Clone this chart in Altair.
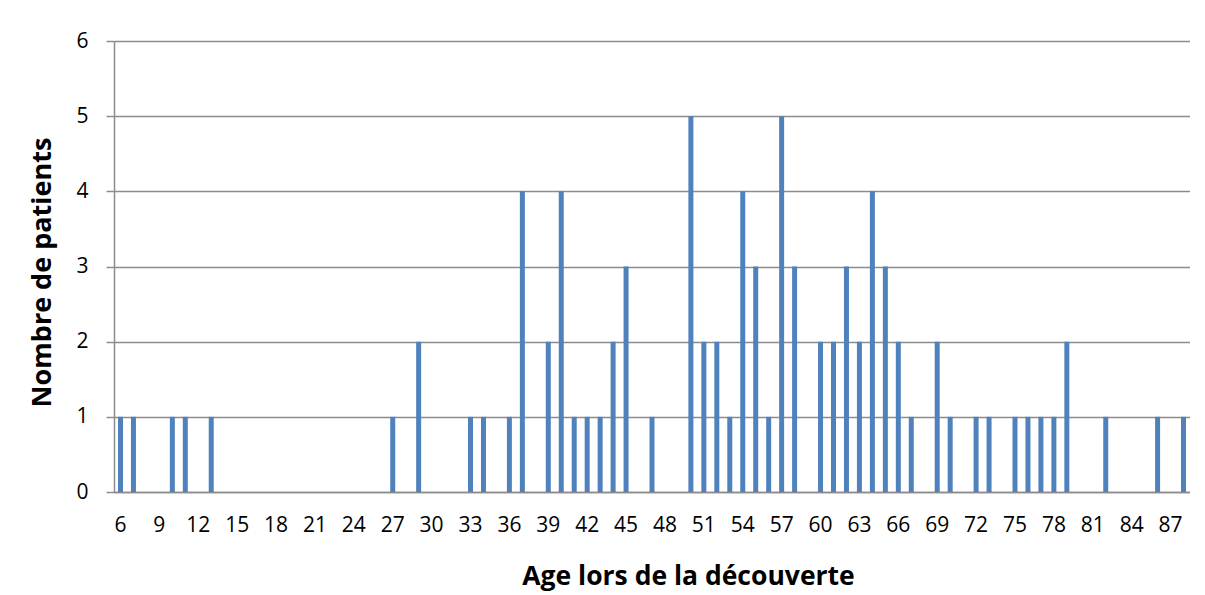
import altair as alt
import pandas as pd

ages = [6, 7, 10, 11, 13, 27, 29, 33, 34, 36, 37, 39, 40, 41, 42, 43, 44, 45, 47,
        50, 51, 52, 53, 54, 55, 56, 57, 58, 60, 61, 62, 63, 64, 65, 66, 67, 69, 70,
        72, 73, 75, 76, 77, 78, 79, 82, 86, 88]
counts = [1, 1, 1, 1, 1, 1, 2, 1, 1, 1, 4, 2, 4, 1, 1, 1, 2, 3, 1,
          5, 2, 2, 1, 4, 3, 1, 5, 3, 2, 2, 3, 2, 4, 3, 2, 1, 2, 1,
          1, 1, 1, 1, 1, 1, 2, 1, 1, 1]
all_ages = list(range(6, 89))
tick_labels = list(range(6, 88, 3))
y_ticks = [0, 1, 2, 3, 4, 5, 6]

df = pd.DataFrame({"age": ages, "n": counts})

FONT = "Open Sans"
GRID = "#8c8c8c"

chart = alt.Chart(df).mark_bar(width=5, color="#4F81BD").encode(
    x=alt.X("age:O",
            scale=alt.Scale(domain=all_ages, paddingInner=0, paddingOuter=0),
            axis=alt.Axis(values=tick_labels, labelAngle=0, ticks=False,
                          title="Age lors de la découverte",
                          labelFontSize=21, labelFont=FONT, labelColor="#000000",
                          labelPadding=22,
                          titleFont=FONT, titleFontSize=26.5, titleFontWeight="bold",
                          titleColor="#000000", titlePadding=28,
                          titleX=574, titleAlign="center",
                          domainColor=GRID, domainWidth=1.5)),
    y=alt.Y("n:Q",
            scale=alt.Scale(domain=[0, 6], nice=False),
            axis=alt.Axis(values=y_ticks, format="d", title="Nombre de patients",
                          labelFontSize=21, labelFont=FONT, labelColor="#000000",
                          labelPadding=18, tickSize=8, tickColor=GRID, tickWidth=1.5,
                          gridColor=GRID, gridWidth=1.5,
                          titleFont=FONT, titleFontSize=27, titleFontWeight="bold",
                          titleColor="#000000", titlePadding=19,
                          titleY=231,
                          domainColor=GRID, domainWidth=1.5)),
).properties(
    width=1076, height=451,
    autosize=alt.AutoSizeParams(type="none"),
    padding={"left": 106, "top": 33, "right": 0, "bottom": 100},
).configure_view(stroke=None).configure(background="#ffffff")

chart.save("out.html", embed_options={"renderer": "svg", "actions": False})
